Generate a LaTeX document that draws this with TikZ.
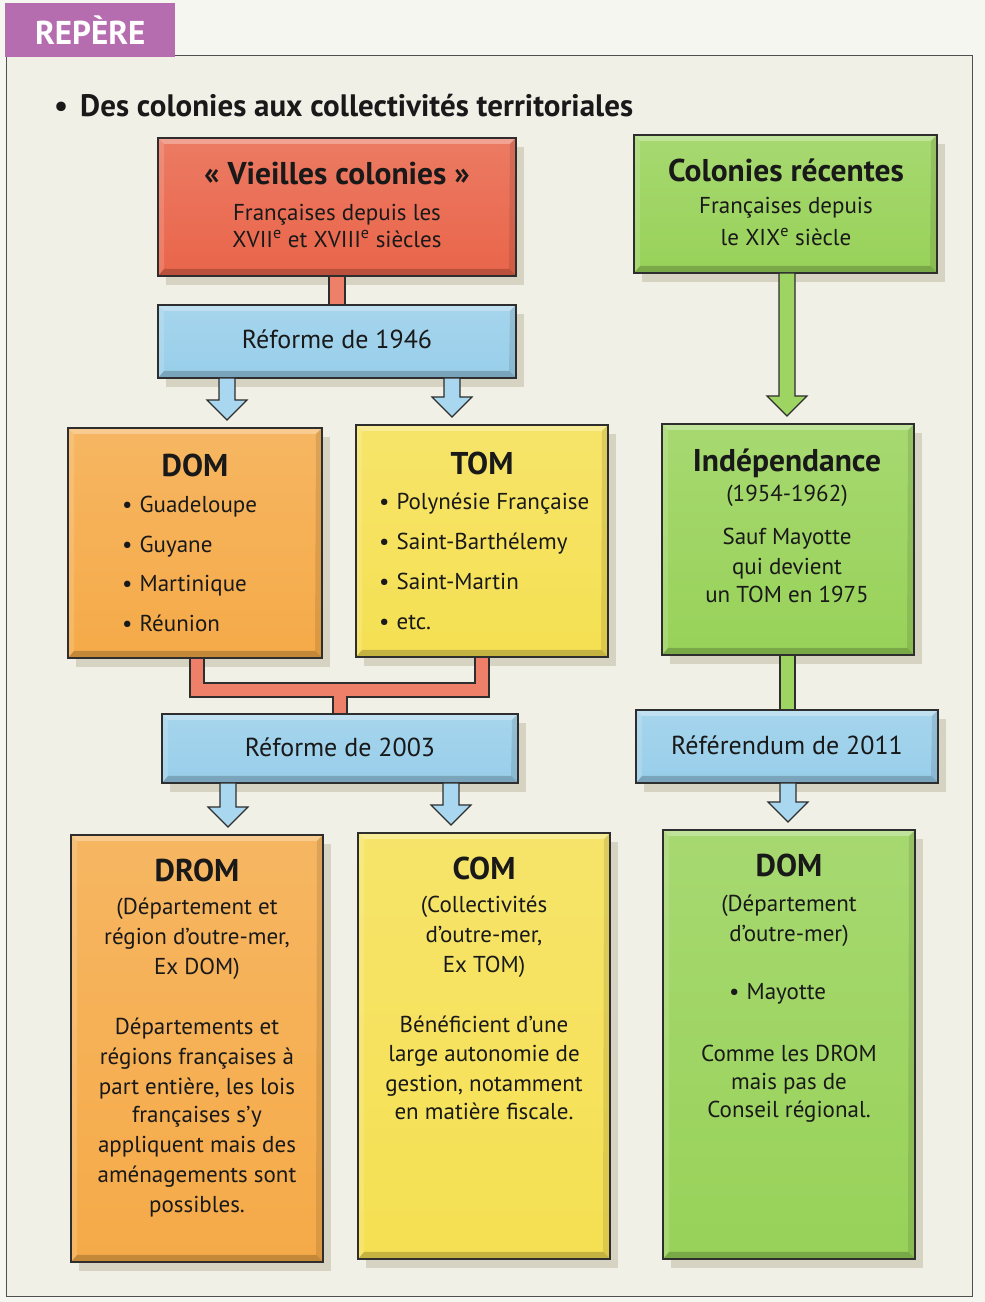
\documentclass[tikz,border=0pt]{standalone}
\usepackage{fontspec}
\setmainfont{PT Sans}
\usetikzlibrary{shadows,calc}
\definecolor{pagec}{HTML}{F6F6F1}
\definecolor{bgc}{HTML}{F1F0E7}
\definecolor{framec}{HTML}{505050}
\definecolor{tabc}{HTML}{B56DB0}
\definecolor{redc}{HTML}{E9654A}
\definecolor{bluec}{HTML}{98CEEA}
\definecolor{orangec}{HTML}{F5AA48}
\definecolor{yellowc}{HTML}{F5E052}
\definecolor{greenc}{HTML}{98D259}
\definecolor{shadowc}{HTML}{CCC7B4}
\definecolor{linec}{HTML}{2E2E2E}
\definecolor{redbar}{HTML}{EE806A}
\definecolor{bluebar}{HTML}{A9D7F0}
\definecolor{greenbar}{HTML}{9DD462}
\tikzset{
  x=1pt, y=1pt,
  bevel/.style={path picture={
    \fill[white,opacity=.30] (path picture bounding box.north west) -- (path picture bounding box.north east) -- ([shift={(-6pt,-6pt)}]path picture bounding box.north east) -- ([shift={(6pt,-6pt)}]path picture bounding box.north west) -- cycle;
    \fill[white,opacity=.15] (path picture bounding box.north west) -- (path picture bounding box.south west) -- ([shift={(6pt,7pt)}]path picture bounding box.south west) -- ([shift={(6pt,-6pt)}]path picture bounding box.north west) -- cycle;
    \fill[black,opacity=.20] (path picture bounding box.south west) -- (path picture bounding box.south east) -- ([shift={(-7pt,7pt)}]path picture bounding box.south east) -- ([shift={(6pt,7pt)}]path picture bounding box.south west) -- cycle;
    \fill[black,opacity=.10] (path picture bounding box.north east) -- (path picture bounding box.south east) -- ([shift={(-7pt,7pt)}]path picture bounding box.south east) -- ([shift={(-6pt,-6pt)}]path picture bounding box.north east) -- cycle;
  }},
  box/.style={draw=linec, line width=1.3pt, top color=#1!86!white, bottom color=#1,
    inner sep=0pt, outer sep=0pt, bevel,
    drop shadow={shadow xshift=8pt, shadow yshift=-9pt, fill=shadowc, opacity=.7}},
  conn/.style={draw=linec, line width=1.1pt, line join=miter},
  txt/.style={font=\fontsize{23}{27}\selectfont, anchor=base, inner sep=0pt, text=black!90},
  hd/.style={font=\bfseries\fontsize{31.5}{36}\selectfont, anchor=base, inner sep=0pt, text=black!90},
  rf/.style={font=\fontsize{26}{30}\selectfont, anchor=base, inner sep=0pt, text=black!90},
  li/.style={font=\fontsize{23}{27}\selectfont, anchor=base west, inner sep=0pt, text=black!90},
}
\newcommand\tx[5][txt]{\node[#1] (#2) at (#3,#4) {#5};}
\newcommand\blockarr[4]{%
  \draw[conn, fill=#4] let \p1=(#2.south), \p2=(#3.north) in
   (#1pt-8pt,\y1) -- (#1pt-8pt,\y2+28pt) -- (#1pt-20pt,\y2+28pt) -- (#1pt,\y2+8pt)
   -- (#1pt+20pt,\y2+28pt) -- (#1pt+8pt,\y2+28pt) -- (#1pt+8pt,\y1) -- cycle;}
\begin{document}
\begin{tikzpicture}
\useasboundingbox (0,0) rectangle (985,1302);
\fill[pagec] (0,0) rectangle (985,1302);
% frame and tab
\draw[framec, line width=1pt, fill=bgc] (6,5) rectangle (972,1246);
\node[fill=tabc, minimum width=170pt, minimum height=54pt, anchor=south west, inner sep=0pt,
  text=white, font=\bfseries\fontsize{33}{36}\selectfont] (tab) at (5,1245) {REPÈRE};
\node[anchor=base west, inner sep=0pt, font=\bfseries\fontsize{31}{34}\selectfont, text=black!90]
  (title) at (54,1185) {•\hspace{12pt}Des colonies aux collectivités territoriales};

% boxes
\node[box=redc, minimum width=358pt, minimum height=138pt] (vc) at (337,1095) {};
\node[box=bluec, minimum width=358pt, minimum height=73pt] (r1946) at (337,960.5) {};
\node[box=greenc, minimum width=303pt, minimum height=138pt] (cr) at (785.5,1098) {};
\node[box=orangec, minimum width=254pt, minimum height=230pt] (dom1) at (195,759) {};
\node[box=yellowc, minimum width=252pt, minimum height=232pt] (tom1) at (482,761) {};
\node[box=greenc, minimum width=252pt, minimum height=231pt] (indep) at (788,762.5) {};
\node[box=bluec, minimum width=356pt, minimum height=69pt] (r2003) at (340,553.5) {};
\node[box=bluec, minimum width=302pt, minimum height=73pt] (r2011) at (787,555.5) {};
\node[box=orangec, minimum width=252pt, minimum height=427pt] (drom) at (197,253.5) {};
\node[box=yellowc, minimum width=252pt, minimum height=426pt] (com) at (484,256) {};
\node[box=greenc, minimum width=252pt, minimum height=429pt] (dom2) at (789,257.5) {};

% connectors
\draw[conn, fill=redbar] let \p1=(vc.south), \p2=(r1946.north) in (329pt,\y1) rectangle (345pt,\y2);
\draw[conn, fill=redbar] let \p1=(dom1.south), \p2=(tom1.south), \p3=(r2003.north) in
  (190pt,\y1) -- (190pt,605pt) -- (333pt,605pt) -- (333pt,\y3) -- (347pt,\y3) -- (347pt,605pt)
  -- (489pt,605pt) -- (489pt,\y2) -- (475pt,\y2) -- (475pt,619pt) -- (204pt,619pt) -- (204pt,\y1) -- cycle;
\draw[conn, fill=greenbar] let \p1=(indep.south), \p2=(r2011.north) in (780pt,\y1) rectangle (795pt,\y2);
\blockarr{227}{r1946}{dom1}{bluebar}
\blockarr{452}{r1946}{tom1}{bluebar}
\blockarr{787}{cr}{indep}{greenbar}
\blockarr{228}{r2003}{drom}{bluebar}
\blockarr{451}{r2003}{com}{bluebar}
\blockarr{788}{r2011}{dom2}{bluebar}

% texts
\tx[hd]{vc1}{337}{1117}{« Vieilles colonies »}
\tx{vc2}{337}{1081}{Françaises depuis les}
\tx{vc3}{337}{1054}{XVII\textsuperscript{e} et XVIII\textsuperscript{e} siècles}
\tx[hd]{cr1}{786}{1120}{Colonies récentes}
\tx{cr2}{786}{1088}{Françaises depuis}
\tx{cr3}{786}{1056}{le XIX\textsuperscript{e} siècle}
\tx[rf]{r1}{337}{953}{Réforme de 1946}
\tx[hd]{d1}{195}{825}{DOM}
\tx[li]{d2}{122}{789}{•\hspace{7pt}Guadeloupe}
\tx[li]{d3}{122}{749}{•\hspace{7pt}Guyane}
\tx[li]{d4}{122}{710}{•\hspace{7pt}Martinique}
\tx[li]{d5}{122}{670}{•\hspace{7pt}Réunion}
\tx[hd]{t1}{482}{827}{TOM}
\tx[li]{t2}{379}{792}{•\hspace{7pt}Polynésie Française}
\tx[li]{t3}{379}{752}{•\hspace{7pt}Saint-Barthélemy}
\tx[li]{t4}{379}{712}{•\hspace{7pt}Saint-Martin}
\tx[li]{t5}{379}{672}{•\hspace{7pt}etc.}
\tx[hd]{i1}{787}{830}{Indépendance}
\tx{i2}{787}{800}{(1954-1962)}
\tx{i3}{787}{757}{Sauf Mayotte}
\tx{i4}{787}{727}{qui devient}
\tx{i5}{787}{699}{un TOM en 1975}
\tx[rf]{r2}{340}{545}{Réforme de 2003}
\tx[rf]{r3}{787}{547}{Référendum de 2011}
\tx[hd]{m1}{197}{420}{DROM}
\tx{m2}{197}{387}{(Département et}
\tx{m3}{197}{357}{région d’outre-mer,}
\tx{m4}{197}{327}{Ex DOM)}
\tx{m5}{197}{267}{Départements et}
\tx{m6}{197}{237}{régions françaises à}
\tx{m7}{197}{207}{part entière, les lois}
\tx{m8}{197}{179}{françaises s’y}
\tx{m9}{197}{149}{appliquent mais des}
\tx{m10}{197}{119}{aménagements sont}
\tx{m11}{197}{89}{possibles.}
\tx[hd]{c1}{484}{422}{COM}
\tx{c2}{484}{389}{(Collectivités}
\tx{c3}{484}{359}{d’outre-mer,}
\tx{c4}{484}{329}{Ex TOM)}
\tx{c5}{484}{269}{Bénéficient d’une}
\tx{c6}{484}{240}{large autonomie de}
\tx{c7}{484}{210}{gestion, notamment}
\tx{c8}{484}{182}{en matière fiscale.}
\tx[hd]{e1}{789}{425}{DOM}
\tx{e2}{789}{390}{(Département}
\tx{e3}{789}{360}{d’outre-mer)}
\tx[li]{e4}{729}{302}{•\hspace{7pt}Mayotte}
\tx{e5}{789}{240}{Comme les DROM}
\tx{e6}{789}{212}{mais pas de}
\tx{e7}{789}{184}{Conseil régional.}
\end{tikzpicture}
\end{document}
